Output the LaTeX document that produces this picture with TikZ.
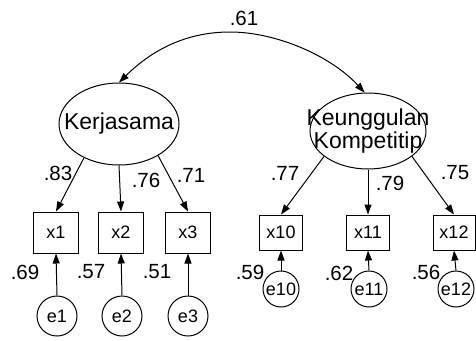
\documentclass[tikz,border=0pt]{standalone}
\usepackage{fontspec}
\setmainfont{Liberation Sans}
\usetikzlibrary{arrows.meta,shapes.geometric}
\begin{document}
\begin{tikzpicture}[x=1pt,y=-1pt,
  line width=1pt,
  tip/.tip={Triangle[length=10pt,width=7pt]},
  latent/.style={draw,ellipse,inner sep=0pt},
  latentname/.style={inner sep=0pt,align=center,
    font=\fontsize{23}{18.5}\selectfont},
  obs/.style={draw,rectangle,inner sep=0pt,font=\fontsize{18}{18}\selectfont},
  err/.style={draw,circle,inner sep=0pt,font=\fontsize{18}{18}\selectfont},
  coef/.style={inner sep=0pt,font=\fontsize{20.5}{20}\selectfont},
  path/.style={-tip}]
\useasboundingbox (0,0) rectangle (476,340);

% latent constructs (outline and name kept apart so the name may overhang)
\node[latent,minimum width=120,minimum height=82] (k1) at (119,124) {};
\node[latentname] (k1name) at (k1.center) {Kerjasama};
\node[latent,minimum width=116,minimum height=76] (k2) at (368,131) {};
\node[latentname] (k2name) at (k2.center) {Keunggulan\\Kompetitip};

% indicators of Kerjasama
\node[obs,minimum width=45,minimum height=41] (x1) at (56,232.5) {x1};
\node[obs,minimum width=45,minimum height=41] (x2) at (121,232.5) {x2};
\node[obs,minimum width=45,minimum height=41] (x3) at (188,232.5) {x3};
\node[err,minimum size=40] (e1) at (57,316) {e1};
\node[err,minimum size=40] (e2) at (122,316) {e2};
\node[err,minimum size=40] (e3) at (188,316) {e3};

% indicators of Keunggulan Kompetitip
\node[obs,minimum width=43,minimum height=35] (x10) at (281,232.5) {x10};
\node[obs,minimum width=43,minimum height=35] (x11) at (368,232.5) {x11};
\node[obs,minimum width=42,minimum height=35] (x12) at (454,232.5) {x12};
\node[err,minimum size=36] (e10) at (281,289) {e10};
\node[err,minimum size=36] (e11) at (369,289) {e11};
\node[err,minimum size=36] (e12) at (456,289) {e12};

% correlation between the constructs
\draw[tip-tip] (k1.north) .. controls (155,47) and (190,32) .. (230,32)
  .. controls (275,32) and (330,55) .. (k2.95);
\node[coef] (r) at (244,18) {.61};

% loadings
\draw[path] (k1.224) -- (x1.north);
\draw[path] (k1.south) -- (x2.north);
\draw[path] (k1.321) -- (x3.north);
\draw[path] (k2.210) -- (x10.north);
\draw[path] (k2.south) -- (x11.north);
\draw[path] (k2.330) -- (x12.north);

% error terms
\draw[path] (e1.north) -- (x1.south);
\draw[path] (e2.north) -- (x2.south);
\draw[path] (e3.north) -- (x3.south);
\draw[path] (e10.north) -- (x10.south);
\draw[path] (e11.north) -- (x11.south);
\draw[path] (e12.north) -- (x12.south);

% coefficients
\node[coef] (l1) at (58,173) {.83};
\node[coef] (l2) at (146,180) {.76};
\node[coef] (l3) at (191,175) {.71};
\node[coef] (l10) at (285,173) {.77};
\node[coef] (l11) at (390,183) {.79};
\node[coef] (l12) at (455,173) {.75};
\node[coef] (s1) at (25,272) {.69};
\node[coef] (s2) at (91,272) {.57};
\node[coef] (s3) at (157,272) {.51};
\node[coef] (s10) at (250,272) {.59};
\node[coef] (s11) at (339,273) {.62};
\node[coef] (s12) at (426,272) {.56};
\end{tikzpicture}
\end{document}
